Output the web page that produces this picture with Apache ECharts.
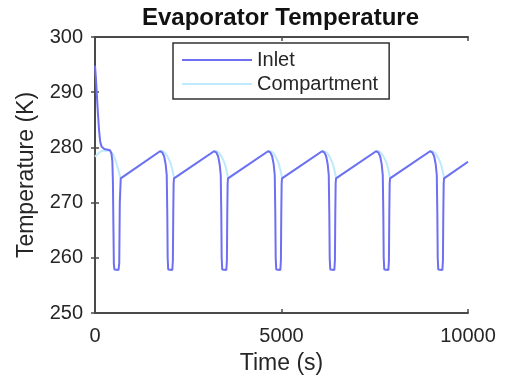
<!DOCTYPE html>
<html>
<head>
<meta charset="utf-8">
<script src="https://cdn.jsdelivr.net/npm/echarts@6/dist/echarts.min.js"></script>
<style>
html,body{margin:0;padding:0;background:#fff;}
#chart{width:506px;height:381px;}
</style>
</head>
<body>
<div id="chart"></div>
<script>
// ---- data (time in s, temperature in K) ----
const seriesNames = ['Inlet', 'Compartment'];
const xTicks = [0, 5000, 10000];
const yTicks = [250, 260, 270, 280, 290, 300];

const inletPoints = [
  [0,294.8],[25,292.5],[50,289.5],[80,286],[110,283],[140,281],[180,280.1],[250,279.7],[400,279.5],
  [440,278.9],[465,277.5],[480,274],[495,265],[505,259],[520,257.9],[630,257.8],[650,259],[665,270],[690,274.4],
  [1743,279.3],[1803,279.1],[1853,278.4],[1893,277.0],[1923,275.0],[1938,268],[1948,260],[1963,257.9],[2073,257.8],[2088,259.5],[2098,268],[2108,273.5],[2118,274.4],
  [3191,279.3],[3251,279.1],[3301,278.4],[3341,277.0],[3371,275.0],[3386,268],[3396,260],[3411,257.9],[3521,257.8],[3536,259.5],[3546,268],[3556,273.5],[3566,274.4],
  [4639,279.3],[4699,279.1],[4749,278.4],[4789,277.0],[4819,275.0],[4834,268],[4844,260],[4859,257.9],[4969,257.8],[4984,259.5],[4994,268],[5004,273.5],[5014,274.4],
  [6087,279.3],[6147,279.1],[6197,278.4],[6237,277.0],[6267,275.0],[6282,268],[6292,260],[6307,257.9],[6417,257.8],[6432,259.5],[6442,268],[6452,273.5],[6462,274.4],
  [7535,279.3],[7595,279.1],[7645,278.4],[7685,277.0],[7715,275.0],[7730,268],[7740,260],[7755,257.9],[7865,257.8],[7880,259.5],[7890,268],[7900,273.5],[7910,274.4],
  [8983,279.3],[9043,279.1],[9093,278.4],[9133,277.0],[9163,275.0],[9178,268],[9188,260],[9203,257.9],[9313,257.8],[9328,259.5],[9338,268],[9348,273.5],[9358,274.4],
  [10000,277.4]
];

const compartmentPoints = [
  [0,278.3],[60,278.7],[120,279.1],[200,279.4],[400,279.4],[460,279.0],[520,278.2],[580,277.0],[630,275.8],[670,274.8],[690,274.4],
  [1743,279.3],[1803,279.3],[1863,279.1],[1923,278.6],[1983,277.8],[2033,277.0],[2073,276.0],[2103,275.0],[2118,274.4],
  [3191,279.3],[3251,279.3],[3311,279.1],[3371,278.6],[3431,277.8],[3481,277.0],[3521,276.0],[3551,275.0],[3566,274.4],
  [4639,279.3],[4699,279.3],[4759,279.1],[4819,278.6],[4879,277.8],[4929,277.0],[4969,276.0],[4999,275.0],[5014,274.4],
  [6087,279.3],[6147,279.3],[6207,279.1],[6267,278.6],[6327,277.8],[6377,277.0],[6417,276.0],[6447,275.0],[6462,274.4],
  [7535,279.3],[7595,279.3],[7655,279.1],[7715,278.6],[7775,277.8],[7825,277.0],[7865,276.0],[7895,275.0],[7910,274.4],
  [8983,279.3],[9043,279.3],[9103,279.1],[9163,278.6],[9223,277.8],[9273,277.0],[9313,276.0],[9343,275.0],[9358,274.4],
  [10000,277.4]
];

const FONT = '"Liberation Sans", Arial, Helvetica, sans-serif';
const AXIS_COLOR = '#4a4a4a';
const TEXT_COLOR = '#262626';

const chart = echarts.init(document.getElementById('chart'), null, {renderer: 'canvas'});

const xMin = xTicks[0], xMax = xTicks[xTicks.length - 1];
const yMin = yTicks[0], yMax = yTicks[yTicks.length - 1];
const xInt = xTicks[1] - xTicks[0], yInt = yTicks[1] - yTicks[0];

function baseAxis(extra) {
  return Object.assign({
    type: 'value',
    axisLine: {show: true, lineStyle: {color: AXIS_COLOR, width: 2}},
    axisTick: {show: true, inside: true, length: 4, lineStyle: {color: AXIS_COLOR, width: 1.5}},
    splitLine: {show: false},
    axisLabel: {show: false}
  }, extra);
}

chart.setOption({
  animation: false,
  backgroundColor: '#ffffff',
  textStyle: {fontFamily: FONT},
  title: {
    text: 'Evaporator Temperature',
    left: 142, top: 6, padding: 0,
    textStyle: {fontFamily: FONT, fontSize: 24, fontWeight: 'bold', color: '#111'}
  },
  legend: {
    data: seriesNames,
    orient: 'vertical',
    left: 173, top: 43,
    padding: [7, 11, 5, 9],
    icon: 'path://M0,0L70,0L70,2L0,2Z',
    itemWidth: 70, itemHeight: 2, itemGap: 4,
    borderColor: '#333', borderWidth: 1.5, borderRadius: 0,
    backgroundColor: '#fff',
    textStyle: {fontFamily: FONT, fontSize: 20, color: TEXT_COLOR, lineHeight: 20}
  },
  grid: {left: 95, right: 38, top: 37, bottom: 68, containLabel: false},
  xAxis: [
    baseAxis({
      min: xMin, max: xMax, interval: xInt, position: 'bottom',
      axisLabel: {show: true, fontFamily: FONT, fontSize: 20, color: TEXT_COLOR, margin: 13,
                  formatter: function (v) { return String(v); }},
      name: 'Time (s)', nameLocation: 'middle', nameGap: 39,
      nameTextStyle: {fontFamily: FONT, fontSize: 23, color: TEXT_COLOR}
    }),
    baseAxis({min: xMin, max: xMax, interval: xInt, position: 'top'})
  ],
  yAxis: [
    baseAxis({
      min: yMin, max: yMax, interval: yInt, position: 'left',
      axisLabel: {show: true, fontFamily: FONT, fontSize: 20, color: TEXT_COLOR, margin: 12,
                  formatter: function (v) { return String(v); }},
      name: 'Temperature (K)', nameLocation: 'middle', nameGap: 57,
      nameTextStyle: {fontFamily: FONT, fontSize: 23, color: TEXT_COLOR}
    }),
    baseAxis({min: yMin, max: yMax, interval: yInt, position: 'right'})
  ],
  series: [
    {
      name: 'Compartment', type: 'line', xAxisIndex: 0, yAxisIndex: 0,
      data: compartmentPoints, symbol: 'none', showSymbol: false,
      lineStyle: {color: '#bdeafc', width: 2}, itemStyle: {color: '#bdeafc'}, z: 2
    },
    {
      name: 'Inlet', type: 'line', xAxisIndex: 0, yAxisIndex: 0,
      data: inletPoints, symbol: 'none', showSymbol: false,
      lineStyle: {color: '#6f6ff2', width: 2}, itemStyle: {color: '#6f6ff2'}, z: 3
    }
  ]
});
</script>
</body>
</html>
